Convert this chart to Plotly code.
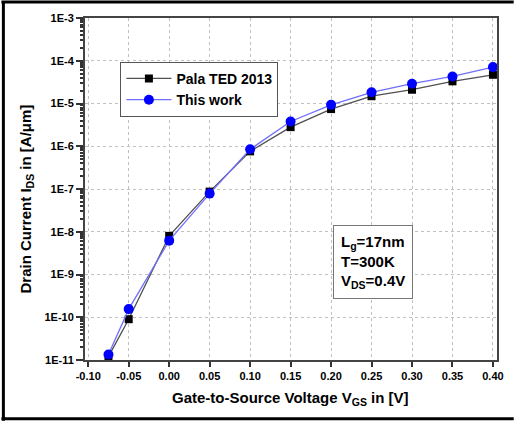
import plotly.graph_objects as go

# ---- data ----
vgs = [-0.075, -0.05, 0.0, 0.05, 0.10, 0.15, 0.20, 0.25, 0.30, 0.35, 0.40]
pala_ted_2013 = [1.2e-11, 9e-11, 8e-9, 8.7e-8, 7.6e-7, 2.8e-6, 7.4e-6, 1.48e-5, 2.1e-5, 3.3e-5, 4.7e-5]
this_work = [1.35e-11, 1.55e-10, 6.2e-9, 7.8e-8, 8.5e-7, 3.8e-6, 9.3e-6, 1.83e-5, 2.9e-5, 4.3e-5, 7.1e-5]

x_tickvals = [-0.10, -0.05, 0.00, 0.05, 0.10, 0.15, 0.20, 0.25, 0.30, 0.35, 0.40]
x_ticktext = ["-0.10", "-0.05", "0.00", "0.05", "0.10", "0.15", "0.20", "0.25", "0.30", "0.35", "0.40"]
y_tickvals = [1e-11, 1e-10, 1e-9, 1e-8, 1e-7, 1e-6, 1e-5, 1e-4, 1e-3]
y_ticktext = ["1E-11", "1E-10", "1E-9", "1E-8", "1E-7", "1E-6", "1E-5", "1E-4", "1E-3"]

FONT = "Liberation Sans, Arial, sans-serif"
W, H = 516, 421
ML, MR, MT, MB = 85, 12, 17, 61
PW, PH = W - ML - MR, H - MT - MB


def px2paper_x(px):
    return (px - ML) / PW


def px2paper_y(py):
    return (H - MB - py) / PH


fig = go.Figure()
fig.add_trace(go.Scatter(
    x=vgs, y=pala_ted_2013, mode="lines+markers", name="Pala TED 2013",
    line=dict(color="#505050", width=1.3),
    marker=dict(symbol="square", size=8, color="black"),
))
fig.add_trace(go.Scatter(
    x=vgs, y=this_work, mode="lines+markers", name="This work",
    line=dict(color="#6f6fff", width=1.3),
    marker=dict(symbol="circle", size=10, color="#0000ff"),
))

fig.update_layout(
    width=W, height=H,
    margin=dict(l=ML, r=MR, t=MT, b=MB),
    paper_bgcolor="white", plot_bgcolor="white",
    font=dict(family=FONT, color="black", weight="bold"),
    showlegend=True,
    legend=dict(
        x=px2paper_x(121), y=px2paper_y(61), xanchor="left", yanchor="top",
        bgcolor="white", bordercolor="#555555", borderwidth=1,
        font=dict(family=FONT, size=14, color="black", weight="bold"),
        tracegroupgap=0, itemwidth=45,
    ),
    xaxis=dict(
        range=[-0.104, 0.405], tickvals=x_tickvals, ticktext=x_ticktext,
        ticks="outside", ticklen=5, tickwidth=1.5, tickcolor="#333333",
        tickfont=dict(family=FONT, size=11, weight="bold"),
        showline=True, linecolor="#444444", linewidth=2, mirror=True,
        showgrid=True, gridcolor="#c0c0c0", griddash="dot", gridwidth=1,
        zeroline=False,
    ),
    yaxis=dict(
        type="log", range=[-11, -3], tickvals=y_tickvals, ticktext=y_ticktext,
        ticks="outside", ticklen=7, tickwidth=1.5, tickcolor="#333333",
        tickfont=dict(family=FONT, size=11, weight="bold"),
        minor=dict(ticks="outside", ticklen=3, tickcolor="#333333", dtick="D1", showgrid=False),
        showline=True, linecolor="#444444", linewidth=2, mirror=True,
        showgrid=True, gridcolor="#c0c0c0", griddash="dot", gridwidth=1,
        zeroline=False,
    ),
)

# axis titles
fig.add_annotation(
    x=px2paper_x(294), y=px2paper_y(399), xref="paper", yref="paper",
    text="Gate-to-Source Voltage V<sub>GS</sub> in [V]", showarrow=False,
    xanchor="center", yanchor="middle",
    font=dict(family=FONT, size=15, weight="bold"),
)
fig.add_annotation(
    x=px2paper_x(25), y=px2paper_y(199), xref="paper", yref="paper",
    text="Drain Current I<sub>DS</sub> in [A/\u03bcm]", showarrow=False,
    textangle=-90, xanchor="center", yanchor="middle",
    font=dict(family=FONT, size=15, weight="bold"),
)

# condition box
fig.add_annotation(
    x=px2paper_x(378), y=px2paper_y(261.5), xref="paper", yref="paper",
    text="L<sub>g</sub>=17nm<br>T=300K<br>V<sub>DS</sub>=0.4V", showarrow=False,
    align="left", xanchor="center", yanchor="middle",
    bgcolor="white", bordercolor="#777777", borderwidth=1, borderpad=7,
    font=dict(family=FONT, size=15, weight="bold"),
)

# outer black frame (top, left, bottom)
fig.add_shape(type="line", xref="paper", yref="paper",
              x0=px2paper_x(0), x1=px2paper_x(W + 5), y0=px2paper_y(1), y1=px2paper_y(1),
              line=dict(color="black", width=3))
fig.add_shape(type="line", xref="paper", yref="paper",
              x0=px2paper_x(2), x1=px2paper_x(2), y0=px2paper_y(0), y1=px2paper_y(H),
              line=dict(color="black", width=3))
fig.add_shape(type="line", xref="paper", yref="paper",
              x0=px2paper_x(0), x1=px2paper_x(W + 5), y0=px2paper_y(419), y1=px2paper_y(419),
              line=dict(color="black", width=3))

fig.write_html("out.html")
